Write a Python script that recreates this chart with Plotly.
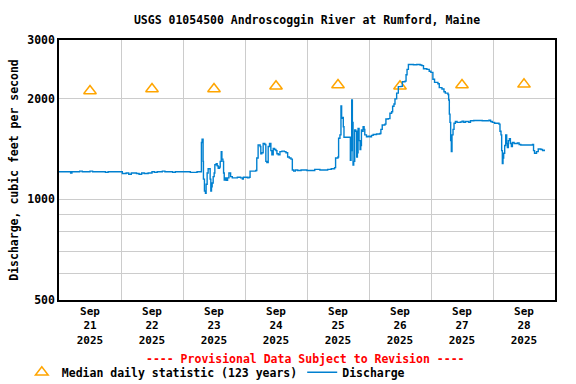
import pandas as pd
import plotly.graph_objects as go

# ---- data ----
base = pd.Timestamp("2025-09-21 00:00")

# discharge: hours since Sep 21 00:00, cfs
q_hours_a = [0, 4.5, 5, 8, 9, 12, 13, 18, 19, 24.5, 26, 27, 28, 30, 31, 32, 33, 34.5, 36, 37, 38, 40, 41, 44, 45]
q_vals_a = [1210, 1200, 1210, 1215, 1210, 1215, 1210, 1205, 1210, 1195, 1200, 1190, 1200, 1195, 1190, 1200, 1195, 1200, 1210, 1205, 1210, 1215, 1210, 1205, 1210]

# Sep 23-25 segment (positions along time)
seg_b_pos = [0, 30, 50, 63, 65, 68, 69, 72, 75, 77, 80, 83, 87, 89, 91, 93, 95, 98, 101, 103, 107, 110, 113, 117, 119, 122, 124, 127, 129, 131, 134, 137, 141, 145, 150, 155, 170, 180, 185, 188, 200, 205, 208, 225, 228, 232, 238, 240, 243, 247, 252, 255, 258, 262, 266, 270, 273, 277, 281, 285, 288, 292, 297, 303, 310, 315, 320, 325, 330, 334, 338, 343, 350, 360]
seg_b_vals = [1210, 1205, 1210, 1480, 1515, 1300, 1150, 1060, 1043, 1110, 1200, 1235, 1235, 1150, 1060, 1090, 1120, 1170, 1200, 1270, 1280, 1260, 1240, 1250, 1300, 1390, 1320, 1300, 1200, 1143, 1160, 1140, 1160, 1200, 1170, 1160, 1165, 1160, 1150, 1165, 1160, 1165, 1215, 1220, 1330, 1455, 1440, 1370, 1380, 1470, 1460, 1300, 1290, 1440, 1470, 1400, 1360, 1420, 1410, 1400, 1370, 1360, 1390, 1395, 1390, 1380, 1340, 1330, 1320, 1225, 1215, 1225, 1220, 1225]

q_hours_c = [96, 99, 101, 104]
q_vals_c = [1220, 1230, 1225, 1230]

seg_d_pos = [0, 10, 13, 20, 22, 26, 29, 31, 34, 36, 38, 55, 57, 59, 61, 63, 65, 67, 70, 73, 76, 78, 80, 83, 86, 88, 90, 93, 95, 98, 100, 105, 110, 115, 120, 125, 135, 145, 148, 152, 160, 163, 170, 175, 180, 183, 187, 190, 195, 200, 208, 212, 220, 223, 226, 230, 245, 255, 265, 270, 275, 285, 292, 297, 303, 308, 318, 322, 330, 336, 340, 348, 350, 352, 354, 356, 358, 360, 363, 366, 370, 375, 385, 390, 395, 400, 410, 415, 425, 450, 465, 470, 475, 480, 487, 500, 503, 506, 508, 510, 512, 514, 517, 520, 523, 525, 528, 531, 534, 537, 540, 545, 555, 560, 565, 580, 600, 603, 606, 612, 617, 625, 630, 635]
seg_d_vals = [1235, 1245, 1330, 1340, 1524, 1560, 1905, 1750, 1760, 1650, 1535, 1535, 1310, 1400, 1985, 1700, 1268, 1300, 1615, 1600, 1340, 1380, 1630, 1500, 1410, 1450, 1615, 1600, 1650, 1620, 1560, 1540, 1545, 1540, 1555, 1565, 1570, 1575, 1620, 1670, 1680, 1740, 1745, 1810, 1830, 1900, 1930, 2000, 2080, 2175, 2180, 2250, 2260, 2360, 2450, 2535, 2530, 2535, 2525, 2515, 2460, 2450, 2420, 2400, 2290, 2240, 2220, 2160, 2140, 2100, 2080, 2060, 1985, 1800, 1700, 1500, 1390, 1560, 1620, 1690, 1710, 1700, 1705, 1715, 1700, 1710, 1700, 1720, 1722, 1720, 1718, 1725, 1710, 1700, 1690, 1680, 1600, 1560, 1400, 1280, 1330, 1375, 1450, 1560, 1470, 1430, 1500, 1520, 1470, 1440, 1480, 1470, 1475, 1460, 1455, 1455, 1460, 1400, 1375, 1390, 1415, 1410, 1400, 1410]

# median daily statistic at noon of each day
med_days = ["2025-09-21 12:00", "2025-09-22 12:00", "2025-09-23 12:00", "2025-09-24 12:00",
            "2025-09-25 12:00", "2025-09-26 12:00", "2025-09-27 12:00", "2025-09-28 12:00"]
med_vals = [2110, 2140, 2140, 2180, 2200, 2180, 2200, 2210]

tick_labels = ["Sep<br>21<br>2025", "Sep<br>22<br>2025", "Sep<br>23<br>2025", "Sep<br>24<br>2025",
               "Sep<br>25<br>2025", "Sep<br>26<br>2025", "Sep<br>27<br>2025", "Sep<br>28<br>2025"]
grid_days = ["2025-09-22", "2025-09-23", "2025-09-24", "2025-09-25", "2025-09-26", "2025-09-27", "2025-09-28"]
y_ticks = [500, 600, 700, 800, 900, 1000, 2000, 3000]
y_text = ["500", "", "", "", "", "1000", "2000", "3000"]

# ---- assemble time axis ----
hours_b = [46.95 + 0.12987 * p for p in seg_b_pos]
hours_d = [105.38 + 0.12987 * p for p in seg_d_pos]
q_hours = q_hours_a + hours_b + q_hours_c + hours_d
q_vals = q_vals_a + seg_b_vals + q_vals_c + seg_d_vals
q_times = [base + pd.Timedelta(hours=h) for h in q_hours]

FONT = "DejaVu Sans Mono"

fig = go.Figure()
fig.add_trace(go.Scatter(
    x=pd.to_datetime(med_days), y=med_vals, mode="markers",
    name="Median daily statistic (123 years)",
    marker=dict(symbol="triangle-up-open", size=11, color="#FFA500", line=dict(width=1.5)),
))
fig.add_trace(go.Scatter(
    x=q_times, y=q_vals, mode="lines", name="Discharge",
    line=dict(color="#0080D0", width=1.4, shape="hv"),
))

fig.update_layout(
    width=576, height=384,
    margin=dict(l=59, r=21, t=40, b=84, autoexpand=False),
    paper_bgcolor="white", plot_bgcolor="white",
    font=dict(family=FONT, size=11.5, color="black", weight="bold"),
    title=dict(text="USGS 01054500 Androscoggin River at Rumford, Maine",
               x=0.533, xanchor="center", y=0.948, yanchor="middle",
               font=dict(family=FONT, size=11.5, color="black", weight="bold")),
    showlegend=True,
    legend=dict(orientation="h", x=-0.075, xanchor="left", y=-0.222, yanchor="top",
                font=dict(family=FONT, size=11.5, color="black", weight="bold"),
                itemwidth=30, tracegroupgap=0, bgcolor="rgba(0,0,0,0)"),
    annotations=[dict(text="---- Provisional Data Subject to Revision ----",
                      xref="paper", yref="paper", x=0.497, y=-0.225, xanchor="center", yanchor="middle",
                      showarrow=False, font=dict(family=FONT, size=11.5, color="#FF0000", weight="bold"))],
)

fig.update_xaxes(
    range=[base, base + pd.Timedelta(days=8)], automargin=False,
    tickmode="array", tickvals=pd.to_datetime(med_days), ticktext=tick_labels,
    showgrid=False, ticks="", showline=True, linecolor="black", linewidth=1.5, mirror=True,
    zeroline=False,
    tickfont=dict(family=FONT, size=11, color="black", weight="bold"),
    minor=dict(tickmode="array", tickvals=pd.to_datetime(grid_days), showgrid=True,
               gridcolor="#CCCCCC", gridwidth=1, ticks=""),
)
fig.update_yaxes(
    type="log", range=[2.69897, 3.47712], automargin=False,
    tickmode="array", tickvals=y_ticks, ticktext=y_text,
    showgrid=True, gridcolor="#CCCCCC", gridwidth=1,
    showline=True, linecolor="black", linewidth=1.5, mirror=True, ticks="", zeroline=False,
    title=dict(text="Discharge, cubic feet per second", standoff=6,
               font=dict(family=FONT, size=11.5, color="black", weight="bold")),
    tickfont=dict(family=FONT, size=11.5, color="black", weight="bold"),
)

fig.write_html("out.html", config={"displayModeBar": False},
               post_script="document.body.style.margin='0';")
